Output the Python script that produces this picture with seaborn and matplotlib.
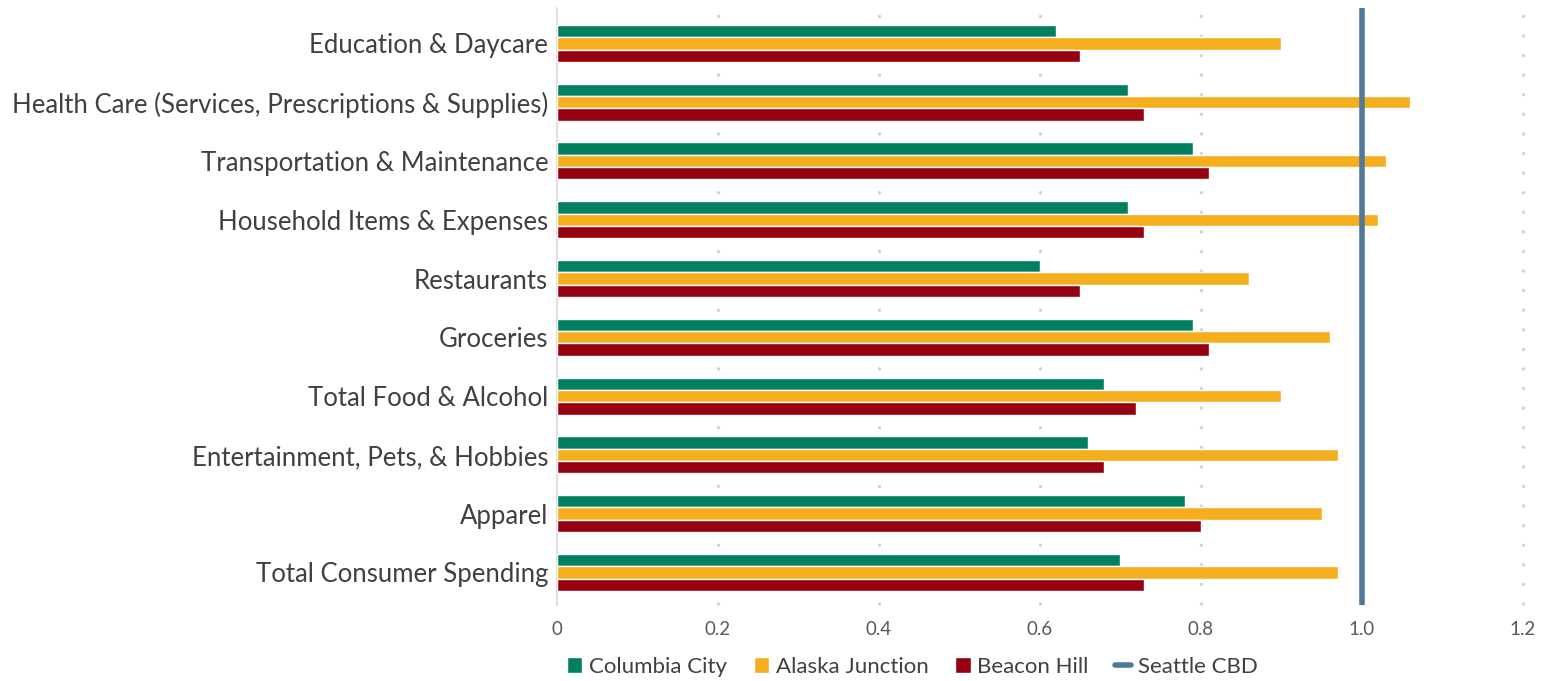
import numpy as np
import pandas as pd
import seaborn as sns
import matplotlib.pyplot as plt

categories = ['Education & Daycare', 'Health Care (Services, Prescriptions & Supplies)',
              'Transportation & Maintenance', 'Household Items & Expenses', 'Restaurants',
              'Groceries', 'Total Food & Alcohol', 'Entertainment, Pets, & Hobbies',
              'Apparel', 'Total Consumer Spending']
columbia_city = [0.62, 0.71, 0.79, 0.71, 0.60, 0.79, 0.68, 0.66, 0.78, 0.70]
alaska_junction = [0.90, 1.06, 1.03, 1.02, 0.86, 0.96, 0.90, 0.97, 0.95, 0.97]
beacon_hill = [0.65, 0.73, 0.81, 0.73, 0.65, 0.81, 0.72, 0.68, 0.80, 0.73]
seattle_cbd = 1.0
series = ['Columbia City', 'Alaska Junction', 'Beacon Hill']
colors = ['#008060', '#f5ae1e', '#960010']

df = pd.DataFrame({'cat': categories * 3,
                   'val': columbia_city + alaska_junction + beacon_hill,
                   'series': sum([[s] * len(categories) for s in series], [])})

sns.set_style('white')
plt.rcParams['font.family'] = ['Lato', 'DejaVu Sans']

fig = plt.figure(figsize=(15.46, 6.81), dpi=100)
ax = fig.add_axes([0.36, 0.112, 0.625, 0.876])

sns.barplot(data=df, y='cat', x='val', hue='series', orient='h', palette=colors,
            width=0.63, saturation=1, ax=ax, zorder=3)

# round dotted vertical gridlines (behind the bars)
for v in np.arange(0.2, 1.21, 0.2):
    ax.axvline(v, color='#d3d3d3', lw=2.5, linestyle=(5.2, (0.01, 5.63)),
               dash_capstyle='round', zorder=1, clip_on=False)
ax.axvline(seattle_cbd, color='#4f7a97', lw=4, zorder=4, label='Seattle CBD')

ax.set_xlim(0, 1.2)
ax.set_ylim(9.55, -0.6)
ax.set_xticks(np.arange(0, 1.21, 0.2))
ax.set_xticklabels(['0', '0.2', '0.4', '0.6', '0.8', '1.0', '1.2'])
ax.set_xlabel('')
ax.set_ylabel('')
ax.tick_params(axis='x', labelsize=13.5, colors='#595959', length=0, pad=12)
ax.tick_params(axis='y', labelsize=18.5, colors='#404040', length=0, pad=6)
for s in ['top', 'right', 'bottom']:
    ax.spines[s].set_visible(False)
ax.spines['left'].set_color('#d9d9d9')
ax.spines['left'].set_linewidth(1.2)

ax.legend(loc='center', bbox_to_anchor=(0.368, -0.104), ncol=4, frameon=False,
          fontsize=16, handlelength=0.7, handleheight=0.7, handletextpad=0.3,
          columnspacing=1.2, labelcolor='#404040')

plt.savefig('out.png', dpi=100)
